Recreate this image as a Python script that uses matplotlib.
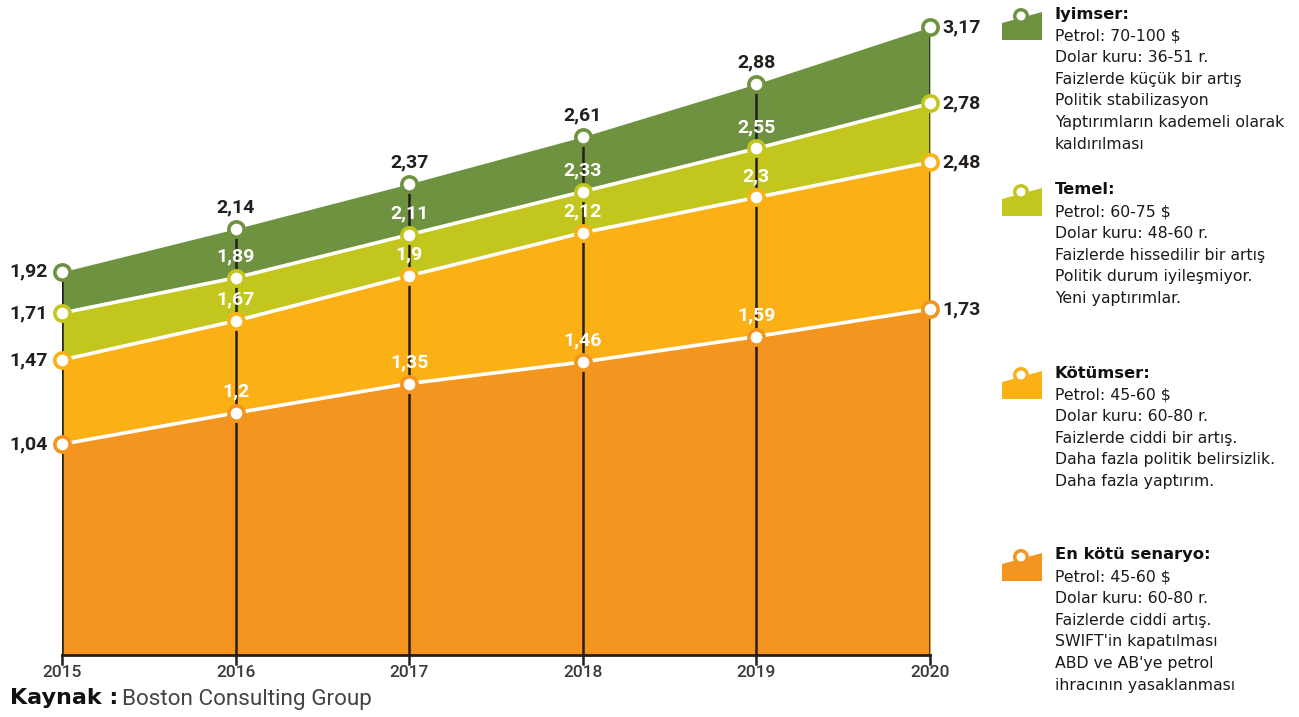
import matplotlib
matplotlib.use("Agg")
import matplotlib.pyplot as plt
from matplotlib.patches import Polygon, Circle

years = [2015, 2016, 2017, 2018, 2019, 2020]
series_names = ["Iyimser", "Temel", "Kötümser", "En kötü senaryo"]
iyimser = [1.92, 2.14, 2.37, 2.61, 2.88, 3.17]
temel = [1.71, 1.89, 2.11, 2.33, 2.55, 2.78]
kotumser = [1.47, 1.67, 1.90, 2.12, 2.30, 2.48]
en_kotu = [1.04, 1.20, 1.35, 1.46, 1.59, 1.73]
series = [iyimser, temel, kotumser, en_kotu]
colors = ["#6f9240", "#c3c71d", "#fbb116", "#f4951f"]

legend_titles = ["Iyimser:", "Temel:", "Kötümser:", "En kötü senaryo:"]
legend_lines = [
    ["Petrol: 70-100 $", "Dolar kuru: 36-51 r.", "Faizlerde küçük bir artış",
     "Politik stabilizasyon", "Yaptırımların kademeli olarak", "kaldırılması"],
    ["Petrol: 60-75 $", "Dolar kuru: 48-60 r.", "Faizlerde hissedilir bir artış",
     "Politik durum iyileşmiyor.", "Yeni yaptırımlar."],
    ["Petrol: 45-60 $", "Dolar kuru: 60-80 r.", "Faizlerde ciddi bir artış.",
     "Daha fazla politik belirsizlik.", "Daha fazla yaptırım."],
    ["Petrol: 45-60 $", "Dolar kuru: 60-80 r.", "Faizlerde ciddi artış.",
     "SWIFT'in kapatılması", "ABD ve AB'ye petrol", "ihracının yasaklanması"],
]
legend_tops = [14, 190, 373, 555]

W, H = 1299, 717
fig = plt.figure(figsize=(W / 100, H / 100), dpi=100)
fig.patch.set_facecolor("white")

# main axes: x 2015 -> px 62, 2020 -> px 930 ; bottom px 655, top px 10
ax = fig.add_axes([62 / W, (H - 655) / H, (930 - 62) / W, (655 - 10) / H])
ymin, ymax = -0.036, 3.257
ax.set_xlim(2015, 2020)
ax.set_ylim(ymin, ymax)
ax.axis("off")

for i, (vals, c) in enumerate(zip(series, colors)):
    ax.fill_between(years, ymin, vals, color=c, lw=0, zorder=1 + i)

# vertical year lines
for x, top in zip(years, iyimser):
    ax.plot([x, x], [ymin, top], color="#231f1c", lw=1.8, zorder=6)

# white boundary lines
for vals in series[1:]:
    ax.plot(years, vals, color="white", lw=2.6, zorder=7, solid_capstyle="butt")

# bottom axis and ticks
ax.plot([2015, 2020], [ymin, ymin], color="#231f1c", lw=2, zorder=8, clip_on=False)
for x in years:
    ax.plot([x, x], [ymin, ymin - 0.045], color="#231f1c", lw=1.8, clip_on=False, zorder=8)
    ax.text(x, ymin - 0.052, str(x), ha="center", va="top", fontsize=12.5,
            family="Roboto", fontweight="medium", color="#3a3a3a")

def fmt(v):
    return ("%g" % v).replace(".", ",")

for si, (vals, c) in enumerate(zip(series, colors)):
    ax.plot(years, vals, "o", ms=11, mfc="white", mec=c, mew=2.6, zorder=10, clip_on=False)
    for j, (x, v) in enumerate(zip(years, vals)):
        if j == 0:
            ax.annotate(fmt(v), (x, v), xytext=(-10, 0), textcoords="offset points",
                        ha="right", va="center", fontsize=14, fontweight="bold",
                        family="Roboto", color="#231f1c", zorder=11)
        elif j == len(years) - 1:
            ax.annotate(fmt(v), (x, v), xytext=(9, 0), textcoords="offset points",
                        ha="left", va="center", fontsize=14, fontweight="bold",
                        family="Roboto", color="#231f1c", zorder=11)
        else:
            col = "#231f1c" if si == 0 else "white"
            ax.annotate(fmt(v), (x, v), xytext=(0, 9), textcoords="offset points",
                        ha="center", va="bottom", fontsize=14, fontweight="bold",
                        family="Roboto", color=col, zorder=11)

# overlay axes in pixel coordinates for legend and source
ov = fig.add_axes([0, 0, 1, 1], facecolor="none")
ov.set_xlim(0, W)
ov.set_ylim(H, 0)
ov.axis("off")

for top, c, title, lines in zip(legend_tops, colors, legend_titles, legend_lines):
    poly = Polygon([(1002, top + 26), (1042, top + 26), (1042, top - 2),
                    (1002, top + 9)], closed=True, fc=c, ec="none")
    ov.add_patch(poly)
    ov.add_patch(Circle((1021, top + 2), 8, fc=c, ec="none"))
    ov.add_patch(Circle((1021, top + 2), 4.5, fc="white", ec="none"))
    ov.text(1055, top, title, ha="left", va="center", fontsize=11.8,
            fontweight="bold", family="DejaVu Sans", color="#111111")
    for k, line in enumerate(lines):
        ov.text(1055, top + 21.7 * (k + 1), line, ha="left", va="center",
                fontsize=11.3, family="DejaVu Sans", color="#1a1a1a")

ov.text(10, 698, "Kaynak :", ha="left", va="center", fontsize=16, fontweight="bold",
        family="DejaVu Sans", color="#111111")
ov.text(122, 699, "Boston Consulting Group", ha="left", va="center", fontsize=16.2,
        family="Roboto", color="#444444")

fig.savefig("out.png", dpi=100, facecolor="white")
